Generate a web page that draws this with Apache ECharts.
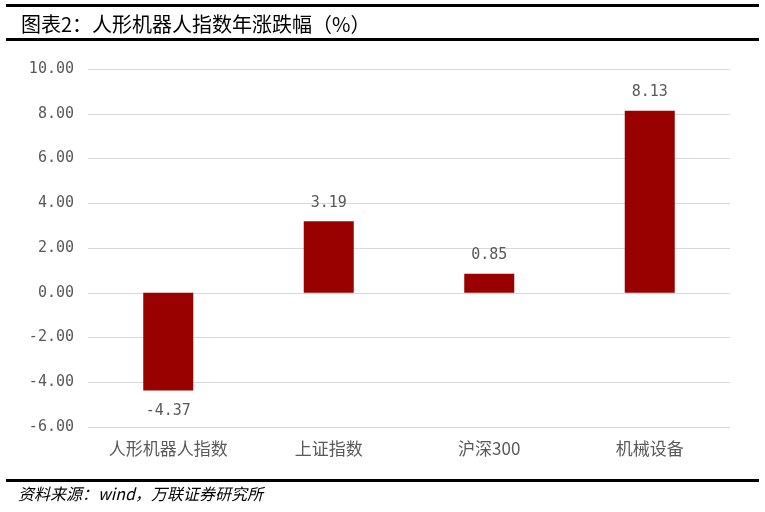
<!DOCTYPE html>
<html><head><meta charset="utf-8">
<script src="https://cdn.jsdelivr.net/npm/echarts@6/dist/echarts.min.js"></script>
<style>html,body{margin:0;padding:0;background:#fff}#c{width:765px;height:512px}</style>
</head><body><div id="c"></div>
<script>
const categories = ['人形机器人指数', '上证指数', '沪深300', '机械设备'];
const values = [-4.37, 3.19, 0.85, 8.13];
const yTicks = {min: -6, max: 10, interval: 2};
const titleText = '图表2：人形机器人指数年涨跌幅（%）';
const sourceText = '资料来源：wind，万联证券研究所';

const chart = echarts.init(document.getElementById('c'));
chart.setOption({
  animation: false,
  backgroundColor: '#fff',
  title: {
    text: titleText, left: 16, top: 9,
    textStyle: {fontFamily: 'Noto Sans CJK SC', fontWeight: 'normal', fontSize: 20, color: '#000'}
  },
  graphic: [
    {type: 'rect', shape: {x: 6, y: 4, width: 753, height: 3}, style: {fill: '#000'}},
    {type: 'rect', shape: {x: 6, y: 38, width: 753, height: 3}, style: {fill: '#000'}},
    {type: 'rect', shape: {x: 6, y: 479, width: 753, height: 3}, style: {fill: '#000'}},
    {type: 'text', left: 18, top: 486, style: {text: sourceText, font: 'italic 16px "Noto Sans CJK SC"', fill: '#000'}}
  ],
  grid: {left: 88, right: 35, top: 69, bottom: 85},
  xAxis: {
    type: 'category', data: categories,
    axisLine: {show: false}, axisTick: {show: false},
    position: 'bottom',
    axisLabel: {color: '#595959', fontSize: 17, margin: 13, fontFamily: 'Noto Sans CJK SC'}
  },
  yAxis: {
    type: 'value', min: yTicks.min, max: yTicks.max, interval: yTicks.interval,
    axisLine: {show: false}, axisTick: {show: false},
    splitLine: {lineStyle: {color: '#d9d9d9', width: 1}},
    axisLabel: {color: '#595959', fontSize: 15, margin: 14, fontFamily: 'DejaVu Sans Mono',
      formatter: v => v.toFixed(2)}
  },
  series: [{
    type: 'bar',
    data: values.map(v => ({value: v, label: {distance: v < 0 ? 13 : 11}})),
    barWidth: 50,
    itemStyle: {color: '#990000'},
    label: {show: true, position: 'outside', color: '#595959', fontSize: 15,
      fontFamily: 'DejaVu Sans Mono', formatter: p => p.value.toFixed(2)}
  }]
});
</script></body></html>
